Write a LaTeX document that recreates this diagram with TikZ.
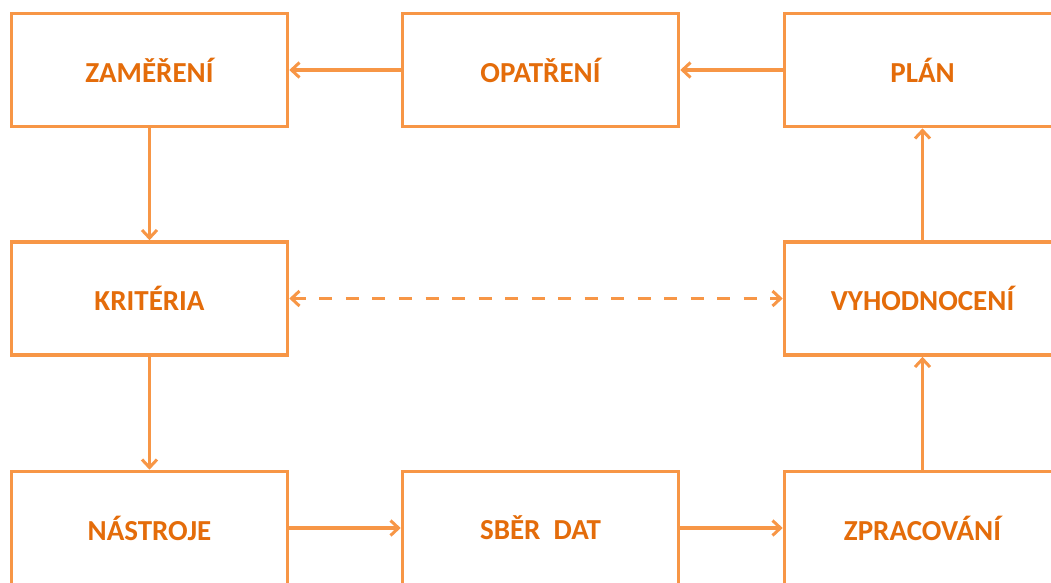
\documentclass[tikz,border=0pt]{standalone}
\usepackage{fontspec}
\setmainfont{Carlito}
\usetikzlibrary{arrows.meta}
\definecolor{ramec}{HTML}{F79646}
\definecolor{pismo}{HTML}{E46C0A}
\begin{document}
\begin{tikzpicture}[x=1pt,y=-1pt,
    krok/.style={draw=ramec, line width=3.6pt, fill=white, minimum width=276pt, minimum height=113pt,
        font=\fontsize{29}{34}\selectfont\bfseries, text=pismo},
    hrot/.style={Straight Barb[length=8pt,width=15pt,line width=3pt]},
    sipka/.style={draw=ramec, line width=3.4pt, -{Straight Barb[length=8pt,width=15pt,line width=3pt]}}]

    % okraje obrazku
    \useasboundingbox (0,0) rectangle (1051,582);

    % horni rada
    \node[krok] (zamereni) at (149.5,70) {ZAMĚŘENÍ};
    \node[krok] (opatreni) at (540.5,70) {OPATŘENÍ};
    \node[krok] (plan) at (922.5,70) {PLÁN};

    % prostredni rada
    \node[krok] (kriteria) at (149.5,298.5) {KRITÉRIA};
    \node[krok] (vyhodnoceni) at (922.5,298.5) {VYHODNOCENÍ};

    % dolni rada
    \node[krok] (nastroje) at (149.5,528) {NÁSTROJE};
    \node[krok] (sber) at (540.5,528) {SBĚR\ \ DAT};
    \node[krok] (zpracovani) at (922.5,528) {ZPRACOVÁNÍ};

    % sipky dokola
    \draw[sipka] (zamereni) -- (kriteria);
    \draw[sipka] (kriteria) -- (nastroje);
    \draw[sipka] (nastroje) -- (sber);
    \draw[sipka] (sber) -- (zpracovani);
    \draw[sipka] (zpracovani) -- (vyhodnoceni);
    \draw[sipka] (vyhodnoceni) -- (plan);
    \draw[sipka] (plan) -- (opatreni);
    \draw[sipka] (opatreni) -- (zamereni);

    % prerusovana oboustranna sipka
    \draw[sipka, {Straight Barb[length=8pt,width=15pt,line width=3pt]}-{Straight Barb[length=8pt,width=15pt,line width=3pt]},
        dash pattern=on 13pt off 13.5pt] (kriteria) -- (vyhodnoceni);

\end{tikzpicture}
\end{document}
